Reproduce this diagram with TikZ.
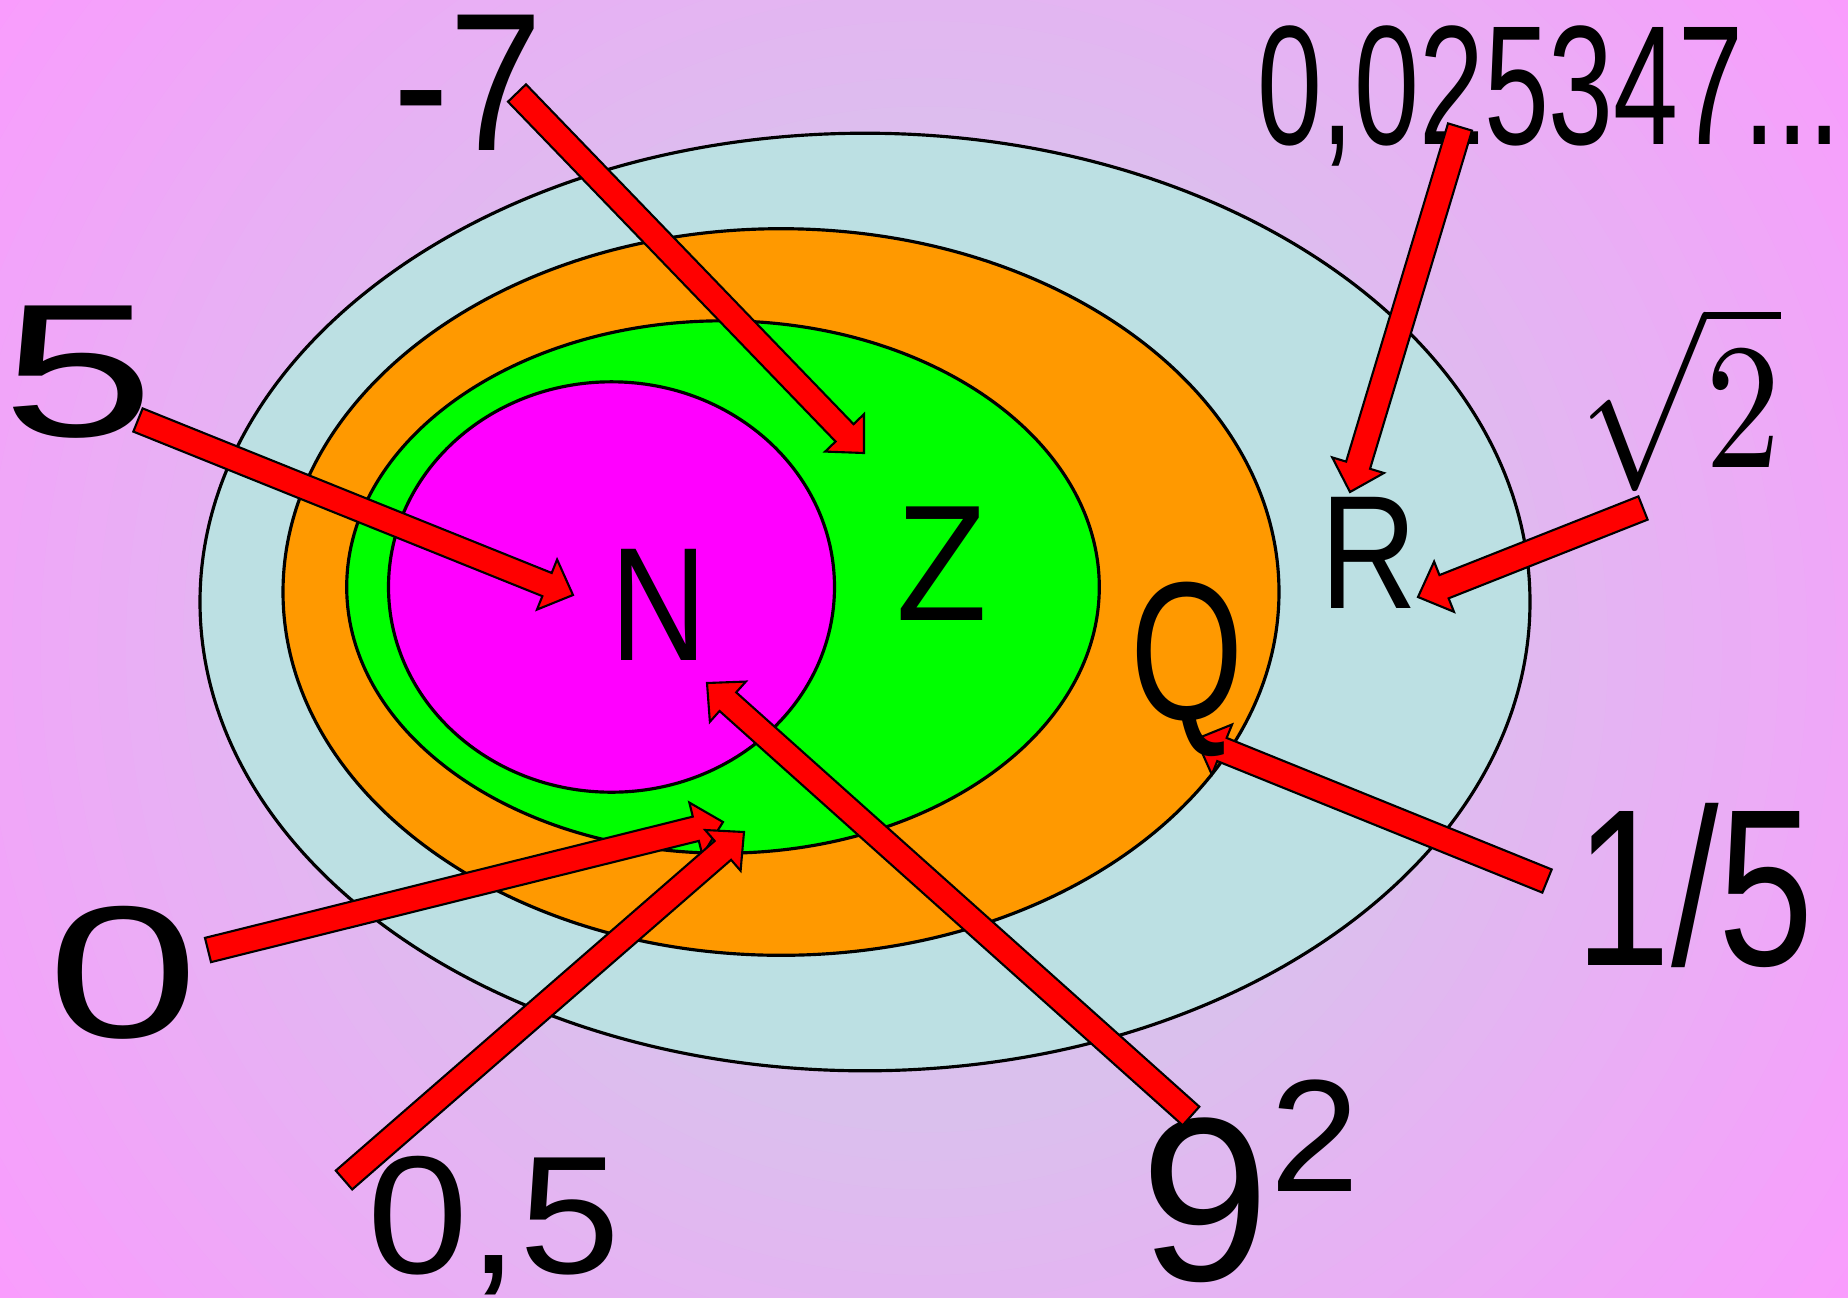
\documentclass[tikz,border=0pt]{standalone}
\usepackage{fontspec}
\setmainfont{Liberation Sans}
\usepackage{tikz}
\usetikzlibrary{calc}

\definecolor{bgmid}{RGB}{218,192,237}
\definecolor{bgedge}{RGB}{249,156,253}
\definecolor{realcol}{RGB}{188,224,227}
\definecolor{ratcol}{RGB}{255,153,0}
\definecolor{intcol}{RGB}{0,255,0}
\definecolor{natcol}{RGB}{255,0,255}

\newcommand{\squeeze}[2]{\scalebox{#1}[1]{#2}}

\begin{document}
\begin{tikzpicture}[
  x=0.1mm, y=-0.1mm,
  set/.style={draw=black, line width=0.9pt},
  lbl/.style={inner sep=0pt, anchor=base},
  arrowbody/.style={draw=black, fill=red, line width=0.6pt, line join=miter}
]
  \useasboundingbox (0,0) rectangle (1848,1297);
  % background glow, pink at the corners
  \begin{scope}
    \clip (0,0) rectangle (1848,1297);
    \foreach \i in {40,39,...,1}{
      \pgfmathsetmacro\pk{max(0,min(100,(\i/40-0.42)/0.58*100))}
      \fill[bgedge!\pk!bgmid] (924,648) circle [radius={\i*0.285cm}];
    }
  \end{scope}

  % nested sets R > Q > Z > N
  \path[set, fill=realcol] (865,602) ellipse [x radius=6.65cm, y radius=4.688cm];
  \path[set, fill=ratcol] (781,592) ellipse [x radius=4.98cm, y radius=3.633cm];
  \path[set, fill=intcol] (723,587) ellipse [x radius=3.763cm, y radius=2.662cm];
  \path[set, fill=natcol] (611.5,587) ellipse [x radius=2.23cm, y radius=2.052cm];

  % numbers around
  \node[lbl, font=\fontsize{56pt}{56pt}\selectfont] (m7) at (468,150) {\squeeze{0.85}{-7}};
  \node[lbl, font=\fontsize{48.4pt}{48pt}\selectfont] (dec) at (1549,144) {\squeeze{0.686}{0,025347...}};
  \node[lbl, font=\fontsize{54pt}{54pt}\selectfont] (five) at (78,436) {\squeeze{1.44}{5}};
  \node[inner sep=0pt] (sqr) at (1680,398) {\scalebox{4.3}[5.1]{$\sqrt{2}$}};
  \node[lbl, font=\fontsize{53.5pt}{54pt}\selectfont] (zero) at (123,1037) {\squeeze{1.45}{0}};
  \node[lbl, font=\fontsize{63.7pt}{64pt}\selectfont] (fifth) at (1695,965) {\squeeze{0.765}{1/5}};
  \node[lbl, font=\fontsize{47.8pt}{48pt}\selectfont] (half) at (494,1273) {\squeeze{1.08}{0,5}};
  \node[lbl, anchor=base west] (nine) at (1140,1280)
    {{\fontsize{66.3pt}{66pt}\selectfont 9}\raisebox{25.2pt}{\fontsize{45.5pt}{46pt}\selectfont 2}};

  % arrow ends
  \coordinate (t7) at (517,93);     \coordinate (h7) at (864,453);
  \coordinate (t5) at (138,420);    \coordinate (h5) at (573,595);
  \coordinate (td) at (1460,127);   \coordinate (hd) at (1350,492);
  \coordinate (ts) at (1643,508);   \coordinate (hs) at (1418,597);
  \coordinate (tf) at (1547,881);   \coordinate (hf) at (1196,739);
  \coordinate (tz) at (208,950);    \coordinate (hz) at (723,822);
  \coordinate (th) at (344,1180);   \coordinate (hh) at (744,832);
  \coordinate (tn) at (1191,1116);  \coordinate (hn) at (707,683);

  \foreach \tl/\tp in {t7/h7, t5/h5, td/hd, ts/hs, tf/hf, tz/hz, th/hh, tn/hn}{
    \coordinate (neck) at ($(\tp)!0.28cm!(\tl)$);
    \draw[arrowbody] ($(\tl)!0.125cm!90:(\tp)$) -- ($(neck)!0.125cm!90:(\tp)$)
      -- ($(neck)!0.27cm!90:(\tp)$) -- (\tp) -- ($(neck)!0.27cm!-90:(\tp)$)
      -- ($(neck)!0.125cm!-90:(\tp)$) -- ($(\tl)!0.125cm!-90:(\tp)$) -- cycle;
  }

  % set names
  \node[lbl, font=\fontsize{46pt}{46pt}\selectfont] (nat) at (659,660) {\squeeze{0.83}{N}};
  \node[lbl, font=\fontsize{47pt}{47pt}\selectfont] (int) at (942,620) {\squeeze{0.9}{Z}};
  \node[lbl, font=\fontsize{56pt}{56pt}\selectfont] (rat) at (1187,719) {\squeeze{0.74}{Q}};
  \node[lbl, font=\fontsize{46pt}{46pt}\selectfont] (real) at (1369,608) {\squeeze{0.83}{R}};
\end{tikzpicture}
\end{document}
